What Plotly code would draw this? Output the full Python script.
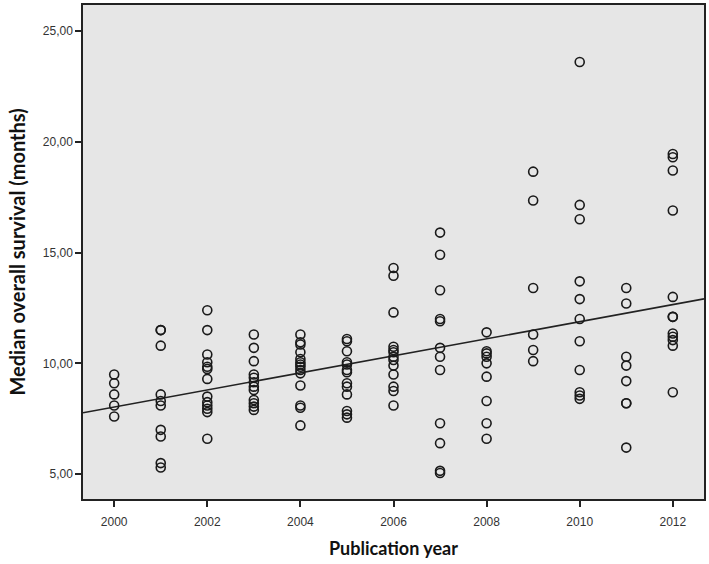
import plotly.graph_objects as go

# Median overall survival (months) per publication year
years = [2000, 2001, 2002, 2003, 2004, 2005, 2006, 2007, 2008, 2009, 2010, 2011, 2012]
survival = {
    2000: [9.5, 9.1, 8.6, 8.1, 7.6],
    2001: [11.5, 11.5, 10.8, 8.6, 8.3, 8.1, 7.0, 6.7, 5.5, 5.3],
    2002: [12.4, 11.5, 10.4, 10.05, 9.85, 9.75, 9.3, 8.5, 8.25, 8.1, 7.95, 7.8, 6.6],
    2003: [11.3, 10.7, 10.1, 9.5, 9.35, 9.15, 8.95, 8.8, 8.35, 8.2, 8.05, 7.9],
    2004: [11.3, 10.95, 10.85, 10.5, 10.2, 10.05, 9.95, 9.85, 9.7, 9.55, 9.0, 8.1, 8.0, 7.2],
    2005: [11.1, 11.0, 10.55, 10.05, 9.95, 9.7, 9.6, 9.1, 8.95, 8.6, 7.85, 7.7, 7.55],
    2006: [14.3, 13.95, 12.3, 10.75, 10.6, 10.5, 10.3, 10.15, 9.9, 9.5, 8.95, 8.75, 8.1],
    2007: [15.9, 14.9, 13.3, 12.0, 11.9, 10.7, 10.3, 9.7, 7.3, 6.4, 5.15, 5.05],
    2008: [11.4, 10.55, 10.45, 10.3, 10.0, 9.4, 8.3, 7.3, 6.6],
    2009: [18.65, 17.35, 13.4, 11.3, 10.6, 10.1],
    2010: [23.6, 17.15, 16.5, 13.7, 12.9, 12.0, 11.0, 9.7, 8.7, 8.55, 8.4],
    2011: [13.4, 12.7, 10.3, 9.9, 9.2, 8.2, 8.2, 6.2],
    2012: [19.45, 19.3, 18.7, 16.9, 13.0, 12.1, 12.1, 11.35, 11.2, 11.05, 10.8, 8.7],
}

# Fitted linear trend, read at the plot edges
fit_x = [1999.33, 2012.67]
fit_y = [7.77, 12.91]

y_tick_vals = [5, 10, 15, 20, 25]
y_tick_text = ["5,00", "10,00", "15,00", "20,00", "25,00"]
x_tick_vals = [2000, 2002, 2004, 2006, 2008, 2010, 2012]
x_tick_text = ["2000", "2002", "2004", "2006", "2008", "2010", "2012"]

xs, ys = [], []
for yr in years:
    for v in survival[yr]:
        xs.append(yr)
        ys.append(v)

fig = go.Figure()
fig.add_trace(go.Scatter(
    x=fit_x, y=fit_y, mode="lines",
    line=dict(color="#222222", width=1.6),
    hoverinfo="skip", showlegend=False,
))
fig.add_trace(go.Scatter(
    x=xs, y=ys, mode="markers",
    marker=dict(symbol="circle-open", size=9, color="#1a1a1a",
                line=dict(width=1.6, color="#1a1a1a")),
    showlegend=False,
))

tick_font = dict(family="Liberation Sans, Arial, sans-serif", size=12, color="#333333")
title_font = dict(family="Lato, Open Sans, sans-serif", size=18, color="#111111")
fig.update_layout(
    width=709, height=564,
    margin=dict(l=83, r=4, t=3, b=65),
    paper_bgcolor="white",
    plot_bgcolor="#e6e6e6",
    xaxis=dict(
        range=[fit_x[0], fit_x[1]],
        tickvals=x_tick_vals, ticktext=x_tick_text,
        ticks="outside", ticklen=6, tickwidth=1.5, tickcolor="#222222",
        ticklabelstandoff=5,
        showgrid=False, zeroline=False,
        showline=True, linecolor="#222222", linewidth=1.5, mirror=True,
        tickfont=tick_font,
    ),
    yaxis=dict(
        range=[3.88, 26.17],
        tickvals=y_tick_vals, ticktext=y_tick_text,
        ticks="outside", ticklen=6, tickwidth=1.5, tickcolor="#222222",
        showgrid=False, zeroline=False,
        showline=True, linecolor="#222222", linewidth=1.5, mirror=True,
        tickfont=tick_font,
    ),
    annotations=[
        dict(text="<b>Publication year</b>", xref="paper", yref="paper",
             x=0.5, y=-0.1, xanchor="center", yanchor="middle", showarrow=False,
             font=title_font),
        dict(text="<b>Median overall survival (months)</b>", xref="paper", yref="paper",
             x=-0.107, y=0.5, xanchor="center", yanchor="middle", showarrow=False,
             textangle=-90, font=dict(title_font, size=20)),
    ],
)

fig.write_html("out.html", config={"displayModeBar": False},
               post_script="document.body.style.margin='0';document.body.style.padding='0';")
